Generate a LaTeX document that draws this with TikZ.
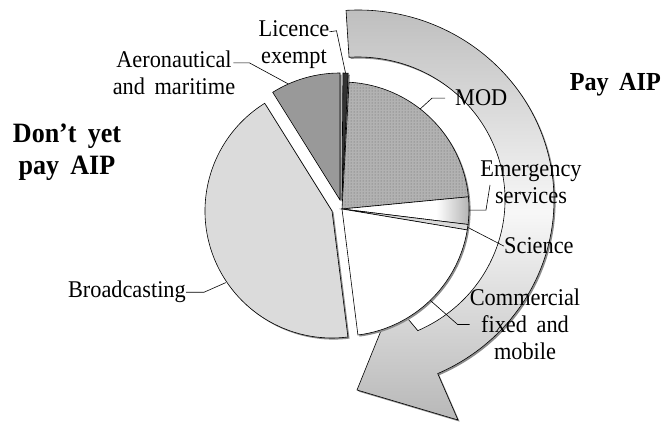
\documentclass[tikz,border=0pt]{standalone}
\usepackage{fontspec}
\setmainfont{Liberation Serif}[FakeStretch=0.93]
\usetikzlibrary{calc,patterns}
\colorlet{emggray}{black!30}
\pgfdeclarehorizontalshading{emgshade}{100bp}{color(0bp)=(white); color(25bp)=(white); color(62bp)=(white); color(75bp)=(emggray); color(100bp)=(emggray)}
\newcommand{\wsp}{\hspace{0.4em}}
\newcommand{\arrowpath}{($(G)+(93.5:196 and 190)$) arc[start angle=93.5, end angle=-66, x radius=196, y radius=190] -- (obarb) -- (tip) -- (ibarb) -- ($(G)+(-66:147 and 143)$) arc[start angle=-66, end angle=93.5, x radius=147, y radius=143] -- cycle}
\newcommand{\emgpath}{(P) -- ++(-7:127) arc[start angle=-7, end angle=5.5, radius=127] -- cycle}
\begin{document}
\begin{tikzpicture}[x=1pt, y=1pt,
  edge/.style={draw=black, line width=0.6pt},
  shad/.style={preaction={fill=black!45, transform canvas={xshift=1.6pt, yshift=-1.6pt}}},
  shadowfill/.style={fill=black!45, transform canvas={xshift=1.6pt, yshift=-1.6pt}},
  lbl/.style={font=\fontsize{24}{27}\selectfont, inner sep=0pt, align=center},
  big/.style={font=\fontsize{26}{32}\selectfont\bfseries, inner sep=0pt, align=center},
  leader/.style={draw=black, line width=0.6pt},
]
\useasboundingbox (0,0) rectangle (662,421);
\fill[white] (0,0) rectangle (662,421);
\coordinate (P) at (342,212);
\coordinate (A) at (340,221);
\coordinate (L) at (342,221);
\coordinate (B) at (332,210);
\coordinate (G) at (358,221);
\coordinate (obarb) at (458,1);
\coordinate (tip) at (357,31);
\coordinate (ibarb) at (393,120);

% curved arrow
\fill[shadowfill] \arrowpath;
\shadedraw[line width=0.6pt, top color=black!26, bottom color=black!28, middle color=black!3] \arrowpath;

% pie wedges
\path[shad, edge, fill=black!14] (B) -- ++(122:127) arc[start angle=122, end angle=277.2, radius=127] -- cycle;
\path[shad, edge, fill=black!40] (A) -- ++(90:127) arc[start angle=90, end angle=122, radius=127] -- cycle;
\path[shad, edge, fill=black!80] (L) -- ++(87.2:127) arc[start angle=87.2, end angle=89.6, radius=127] -- cycle;
\path[shad, fill=black!30, postaction={pattern=dots, pattern color=black!62}, postaction={edge}] (P) -- ++(5.5:127) arc[start angle=5.5, end angle=86.8, radius=127] -- cycle;
\fill[shadowfill] \emgpath;
\shadedraw[line width=0.6pt, shading=emgshade] \emgpath;
\path[shad, edge, fill=black!15] (P) -- ++(-9.5:127) arc[start angle=-9.5, end angle=-7, radius=127] -- cycle;
\path[shad, edge, fill=white] (P) -- ++(-82.8:127) arc[start angle=-82.8, end angle=-9.5, radius=127] -- cycle;

% labels
\node[lbl] (lic) at (294,376) {Licence\\exempt};
\node[lbl] (aer) at (174,348) {Aeronautical\\and\wsp maritime};
\node[lbl, anchor=base west] (mod) at (455,315) {MOD};
\node[lbl] (emg) at (531,238.5) {Emergency\\services};
\node[lbl, anchor=base west] (sci) at (504,167) {Science};
\node[lbl] (com) at (525,96.5) {Commercial\\fixed\wsp and\\mobile};
\node[lbl, anchor=base east] (brd) at (186,123) {Broadcasting};
\node[big, font=\fontsize{28}{32}\selectfont\bfseries] (dnp) at (67,269) {Don’t\wsp yet\\pay\wsp AIP};
\node[big, anchor=base east] (pay) at (661,330) {Pay\wsp AIP};

% leaders
\coordinate (licS) at ($(lic.north east)+(0,-11)$);
\coordinate (licK) at ($(licS)+(7,1)$);
\coordinate (licE) at ($(L)+(88.4:127)$);
\draw[leader] (licS) -- (licK) -- (licE);

\coordinate (aerS) at ($(aer.north east)+(-2,-12)$);
\coordinate (aerK) at ($(aerS)+(16,0)$);
\coordinate (aerE) at ($(A)+(114:127)$);
\draw[leader] (aerS) -- (aerK) -- (aerE);

\coordinate (modS) at ($(mod.west)+(-10,0)$);
\coordinate (modK) at ($(mod.west)+(-23,0)$);
\coordinate (modE) at ($(P)+(52:127)$);
\draw[leader] (modS) -- (modK) -- (modE);

\coordinate (emgS) at ($(P)+(-0.5:127)$);
\coordinate (emgK) at ($(emgS)+(17,0)$);
\coordinate (emgE) at ($(emg.center)+(-41,-2.5)$);
\draw[leader] (emgS) -- (emgK) -- (emgE);

\coordinate (sciS) at ($(P)+(-8.3:127)$);
\draw[leader] (sciS) -- (sci.west);

\coordinate (comS) at ($(P)+(-46:127)$);
\coordinate (comK) at ($(com.west)+(-12,0)$);
\draw[leader] (comS) -- (comK) -- (com.west);

\coordinate (brdK) at ($(brd.east)+(18,0)$);
\coordinate (brdE) at ($(B)+(214:128)$);
\draw[leader] (brd.east) -- (brdK) -- (brdE);
\end{tikzpicture}
\end{document}
